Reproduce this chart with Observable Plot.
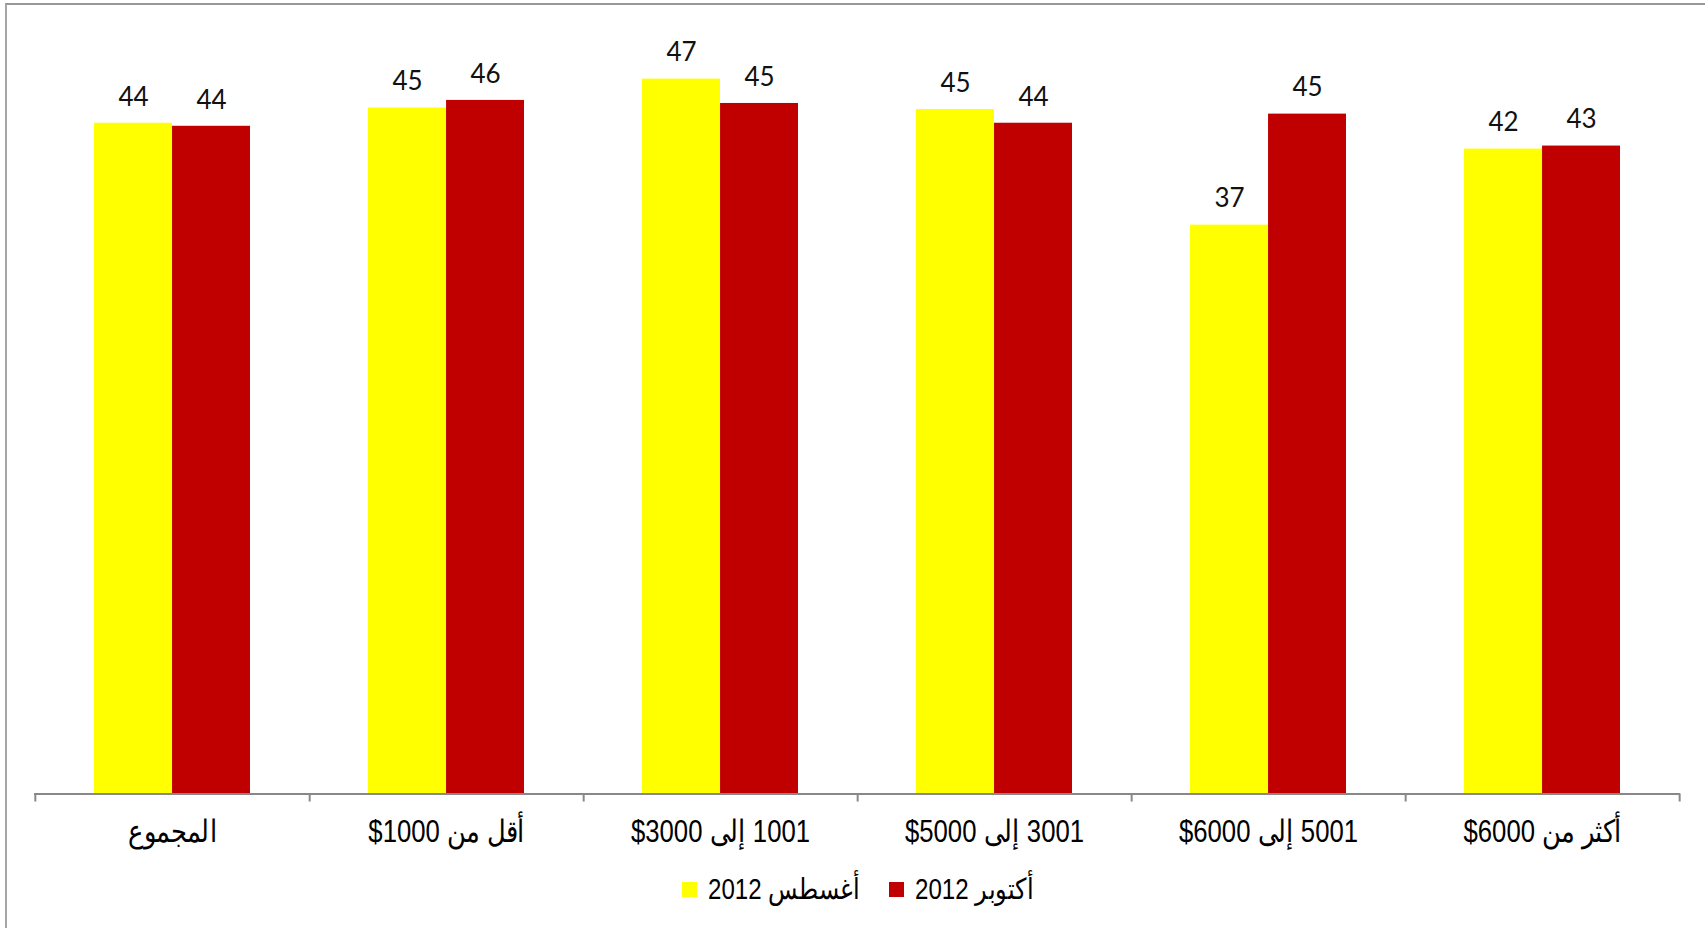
<!DOCTYPE html>
<html>
<head>
<meta charset="utf-8">
<script src="https://cdn.jsdelivr.net/npm/d3@7"></script>
<script src="https://cdn.jsdelivr.net/npm/@observablehq/plot@0.6"></script>
<style>
  html, body { margin: 0; padding: 0; background: #fff; }
  body { width: 1705px; height: 928px; overflow: hidden; position: relative; }
  #frame { position: absolute; left: 5px; top: 3px; width: 1760px; height: 1000px;
           border-left: 2px solid #a6a6a6; border-top: 2px solid #999; box-sizing: border-box; }
  #chart { position: absolute; left: 0; top: 0; }
  #chart svg { overflow: visible; }
  .c g[aria-label="x-axis tick label"] { direction: rtl; unicode-bidi: embed; }
  #legend { position: absolute; top: 872px; left: 0; width: 1705px; height: 34px;
            font-family: "Liberation Sans", Arial, sans-serif; font-size: 29px; color: #000; }
  .item { position: absolute; top: 0; height: 34px; display: flex; align-items: center; white-space: nowrap; }
  .sw { width: 15px; height: 15px; margin-right: 11px; flex: none; }
  .lbl { direction: rtl; unicode-bidi: embed; display: inline-block; transform: scaleX(0.83); transform-origin: left center; }
</style>
</head>
<body>
<div id="frame"></div>
<div id="chart"></div>
<div id="legend"></div>
<script>
// ---- data ----
const categories = ["المجموع", "أقل من 1000$", "1001 إلى 3000$", "3001 إلى 5000$", "5001 إلى 6000$", "أكثر من 6000$"];
const seriesNames = ["أغسطس 2012", "أكتوبر 2012"];
const augustValues = [44.1, 45.1, 47.0, 45.0, 37.4, 42.4];
const octoberValues = [43.9, 45.6, 45.4, 44.1, 44.7, 42.6];
const seriesColors = ["#FFFF00", "#C00000"];

// ---- layout ----
const W = 1705, H = 856;
const mL = 34, mR = 25, mT = 33, baseY = 793.5;
const mB = H - baseY;
const padInner = 0.431;
const step = (W - mL - mR) / categories.length;
const bw = step * (1 - padInner);

const augData = categories.map((c, i) => ({cat: c, v: augustValues[i]}));
const octData = categories.map((c, i) => ({cat: c, v: octoberValues[i]}));
const fmt = d3.format(".0f");
const valueFont = "Lato, 'Open Sans', sans-serif";
const axisFont = "'Liberation Sans', Arial, sans-serif";

const chart = Plot.plot({
  className: "c",
  width: W, height: H,
  marginLeft: mL, marginRight: mR, marginTop: mT, marginBottom: mB,
  style: {background: "transparent", color: "#000"},
  x: {domain: categories, paddingInner: padInner, paddingOuter: padInner / 2, align: 0.5, axis: null, label: null},
  y: {domain: [0, 50], axis: null, label: null},
  marks: [
    Plot.barY(augData, {x: "cat", y: "v", fill: seriesColors[0], insetRight: bw / 2}),
    Plot.barY(octData, {x: "cat", y: "v", fill: seriesColors[1], insetLeft: bw / 2}),
    Plot.text(augData, {x: "cat", y: "v", text: d => fmt(d.v), dx: -bw / 4, dy: -26, fontSize: 26, fontFamily: valueFont, fill: "#111"}),
    Plot.text(octData, {x: "cat", y: "v", text: d => fmt(d.v), dx: bw / 4, dy: -26, fontSize: 26, fontFamily: valueFont, fill: "#111"}),
    Plot.ruleY([0], {stroke: "#888", strokeWidth: 2}),
    Plot.axisX(categories, {tickSize: 8, text: null, label: null, dx: step / 2, stroke: "#888", strokeWidth: 2}),
    Plot.axisX([categories[0]], {tickSize: 8, text: null, label: null, dx: -step / 2, stroke: "#888", strokeWidth: 2}),
    Plot.axisX({tickSize: 0, tickPadding: 26, fontSize: 31, fontFamily: axisFont, label: null})
  ]
});
document.getElementById("chart").appendChild(chart);

// narrow the category labels horizontally (the reference uses a condensed face)
d3.select(chart).selectAll('g[aria-label="x-axis tick label"] text')
  .attr("transform", function() { return (this.getAttribute("transform") || "") + " scale(0.83,1)"; });

// ---- legend ----
const legend = document.getElementById("legend");
const legendLeft = [682, 889];
seriesNames.forEach((name, i) => {
  const item = document.createElement("div");
  item.className = "item";
  item.style.left = legendLeft[i] + "px";
  const sw = document.createElement("div");
  sw.className = "sw";
  sw.style.background = seriesColors[i];
  const lbl = document.createElement("span");
  lbl.className = "lbl";
  lbl.textContent = name;
  item.appendChild(sw);
  item.appendChild(lbl);
  legend.appendChild(item);
});
</script>
</body>
</html>
